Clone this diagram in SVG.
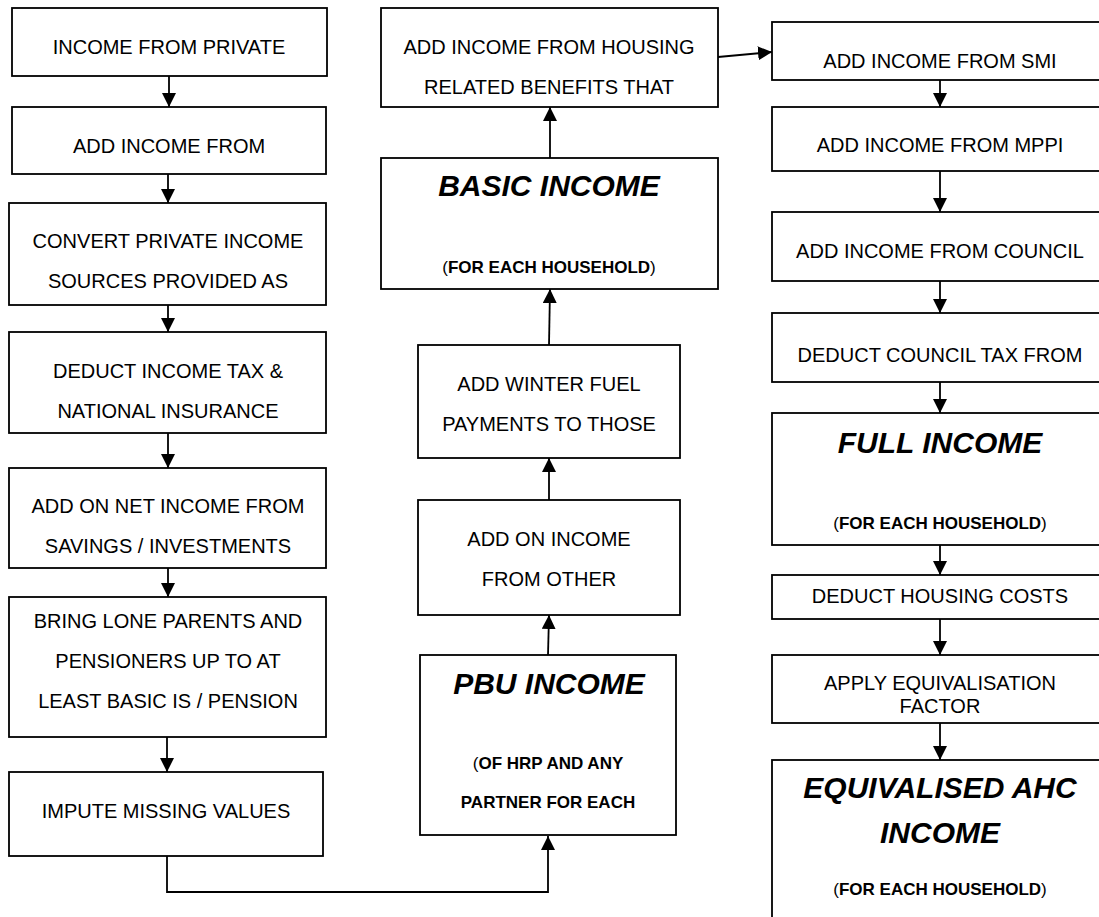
<svg xmlns="http://www.w3.org/2000/svg" width="1099" height="917" viewBox="0 0 1099 917">
<defs>
<marker id="ah" markerUnits="userSpaceOnUse" markerWidth="14" markerHeight="14" refX="14" refY="7" orient="auto">
<path d="M0,0 L14,7 L0,14 z" fill="#000"/>
</marker>
<style>
.box{fill:#fff;stroke:#000;stroke-width:1.8}
.t{font-family:"Liberation Sans",Arial,sans-serif;font-size:20px;fill:#000;text-anchor:middle}
.h{font-family:"Liberation Sans",Arial,sans-serif;font-size:30px;font-weight:bold;font-style:italic;fill:#000;text-anchor:middle}
.s{font-family:"Liberation Sans",Arial,sans-serif;font-size:17px;font-weight:bold;fill:#000;text-anchor:middle}
.p{font-weight:normal}
.c{fill:none;stroke:#000;stroke-width:1.8;marker-end:url(#ah)}
</style>
</defs>
<rect width="1099" height="917" fill="#fff"/>
<g id="connectors">
<path class="c" d="M169,76 V107"/>
<path class="c" d="M168,174 V203"/>
<path class="c" d="M168,305 V332"/>
<path class="c" d="M168,433 V468"/>
<path class="c" d="M168,568 V597"/>
<path class="c" d="M167,737 V772"/>
<path class="c" d="M167,856 V892 H548 V836"/>
<path class="c" d="M548,655 L549,615"/>
<path class="c" d="M549,500 V458"/>
<path class="c" d="M549,345 L550,289"/>
<path class="c" d="M550,158 V107"/>
<path class="c" d="M718,57 L772,52"/>
<path class="c" d="M940,80 V107"/>
<path class="c" d="M940,171 V212"/>
<path class="c" d="M940,281 V313"/>
<path class="c" d="M940,382 V413"/>
<path class="c" d="M940,545 V575"/>
<path class="c" d="M940,619 V655"/>
<path class="c" d="M940,723 V760"/>
</g>
<g id="n1"><rect class="box" x="12" y="8" width="315" height="68"/><text class="t" x="169" y="54">INCOME FROM PRIVATE</text></g>
<g id="n2"><rect class="box" x="12" y="107" width="314" height="67"/><text class="t" x="169" y="153">ADD INCOME FROM</text></g>
<g id="n3"><rect class="box" x="9" y="203" width="317" height="102"/><text class="t" x="168" y="248">CONVERT PRIVATE INCOME</text><text class="t" x="168" y="288">SOURCES PROVIDED AS</text></g>
<g id="n4"><rect class="box" x="9" y="332" width="317" height="101"/><text class="t" x="168" y="378">DEDUCT INCOME TAX &amp;</text><text class="t" x="168" y="418">NATIONAL INSURANCE</text></g>
<g id="n5"><rect class="box" x="9" y="468" width="317" height="100"/><text class="t" x="168" y="513">ADD ON NET INCOME FROM</text><text class="t" x="168" y="553">SAVINGS / INVESTMENTS</text></g>
<g id="n6"><rect class="box" x="9" y="597" width="317" height="140"/><text class="t" x="168" y="628">BRING LONE PARENTS AND</text><text class="t" x="168" y="668">PENSIONERS UP TO AT</text><text class="t" x="168" y="708">LEAST BASIC IS / PENSION</text></g>
<g id="n7"><rect class="box" x="9" y="772" width="314" height="84"/><text class="t" x="166" y="818">IMPUTE MISSING VALUES</text></g>
<g id="n8"><rect class="box" x="381" y="8" width="337" height="99"/><text class="t" x="549" y="54">ADD INCOME FROM HOUSING</text><text class="t" x="549" y="94">RELATED BENEFITS THAT</text></g>
<g id="n9"><rect class="box" x="381" y="158" width="337" height="131"/><text class="h" x="549" y="196">BASIC INCOME</text><text class="s" x="549" y="273"><tspan class="p">(</tspan>FOR EACH HOUSEHOLD<tspan class="p">)</tspan></text></g>
<g id="n10"><rect class="box" x="418" y="345" width="262" height="113"/><text class="t" x="549" y="391">ADD WINTER FUEL</text><text class="t" x="549" y="431">PAYMENTS TO THOSE</text></g>
<g id="n11"><rect class="box" x="418" y="500" width="262" height="115"/><text class="t" x="549" y="546">ADD ON INCOME</text><text class="t" x="549" y="586">FROM OTHER</text></g>
<g id="n12"><rect class="box" x="420" y="655" width="256" height="180"/><text class="h" x="549" y="694">PBU INCOME</text><text class="s" x="548" y="769"><tspan class="p">(</tspan>OF HRP AND ANY</text><text class="s" x="548" y="808">PARTNER FOR EACH</text></g>
<g id="n13"><rect class="box" x="772" y="22" width="336" height="58"/><text class="t" x="940" y="68">ADD INCOME FROM SMI</text></g>
<g id="n14"><rect class="box" x="772" y="107" width="336" height="64"/><text class="t" x="940" y="152">ADD INCOME FROM MPPI</text></g>
<g id="n15"><rect class="box" x="772" y="212" width="336" height="69"/><text class="t" x="940" y="258">ADD INCOME FROM COUNCIL</text></g>
<g id="n16"><rect class="box" x="772" y="313" width="336" height="69"/><text class="t" x="940" y="362">DEDUCT COUNCIL TAX FROM</text></g>
<g id="n17"><rect class="box" x="772" y="413" width="336" height="132"/><text class="h" x="940" y="453">FULL INCOME</text><text class="s" x="940" y="529"><tspan class="p">(</tspan>FOR EACH HOUSEHOLD<tspan class="p">)</tspan></text></g>
<g id="n18"><rect class="box" x="772" y="575" width="336" height="44"/><text class="t" x="940" y="603">DEDUCT HOUSING COSTS</text></g>
<g id="n19"><rect class="box" x="772" y="655" width="336" height="68"/><text class="t" x="940" y="690">APPLY EQUIVALISATION</text><text class="t" x="940" y="713">FACTOR</text></g>
<g id="n20"><rect class="box" x="772" y="760" width="336" height="170"/><text class="h" x="940" y="798">EQUIVALISED AHC</text><text class="h" x="940" y="843">INCOME</text><text class="s" x="940" y="895"><tspan class="p">(</tspan>FOR EACH HOUSEHOLD<tspan class="p">)</tspan></text></g>
</svg>
